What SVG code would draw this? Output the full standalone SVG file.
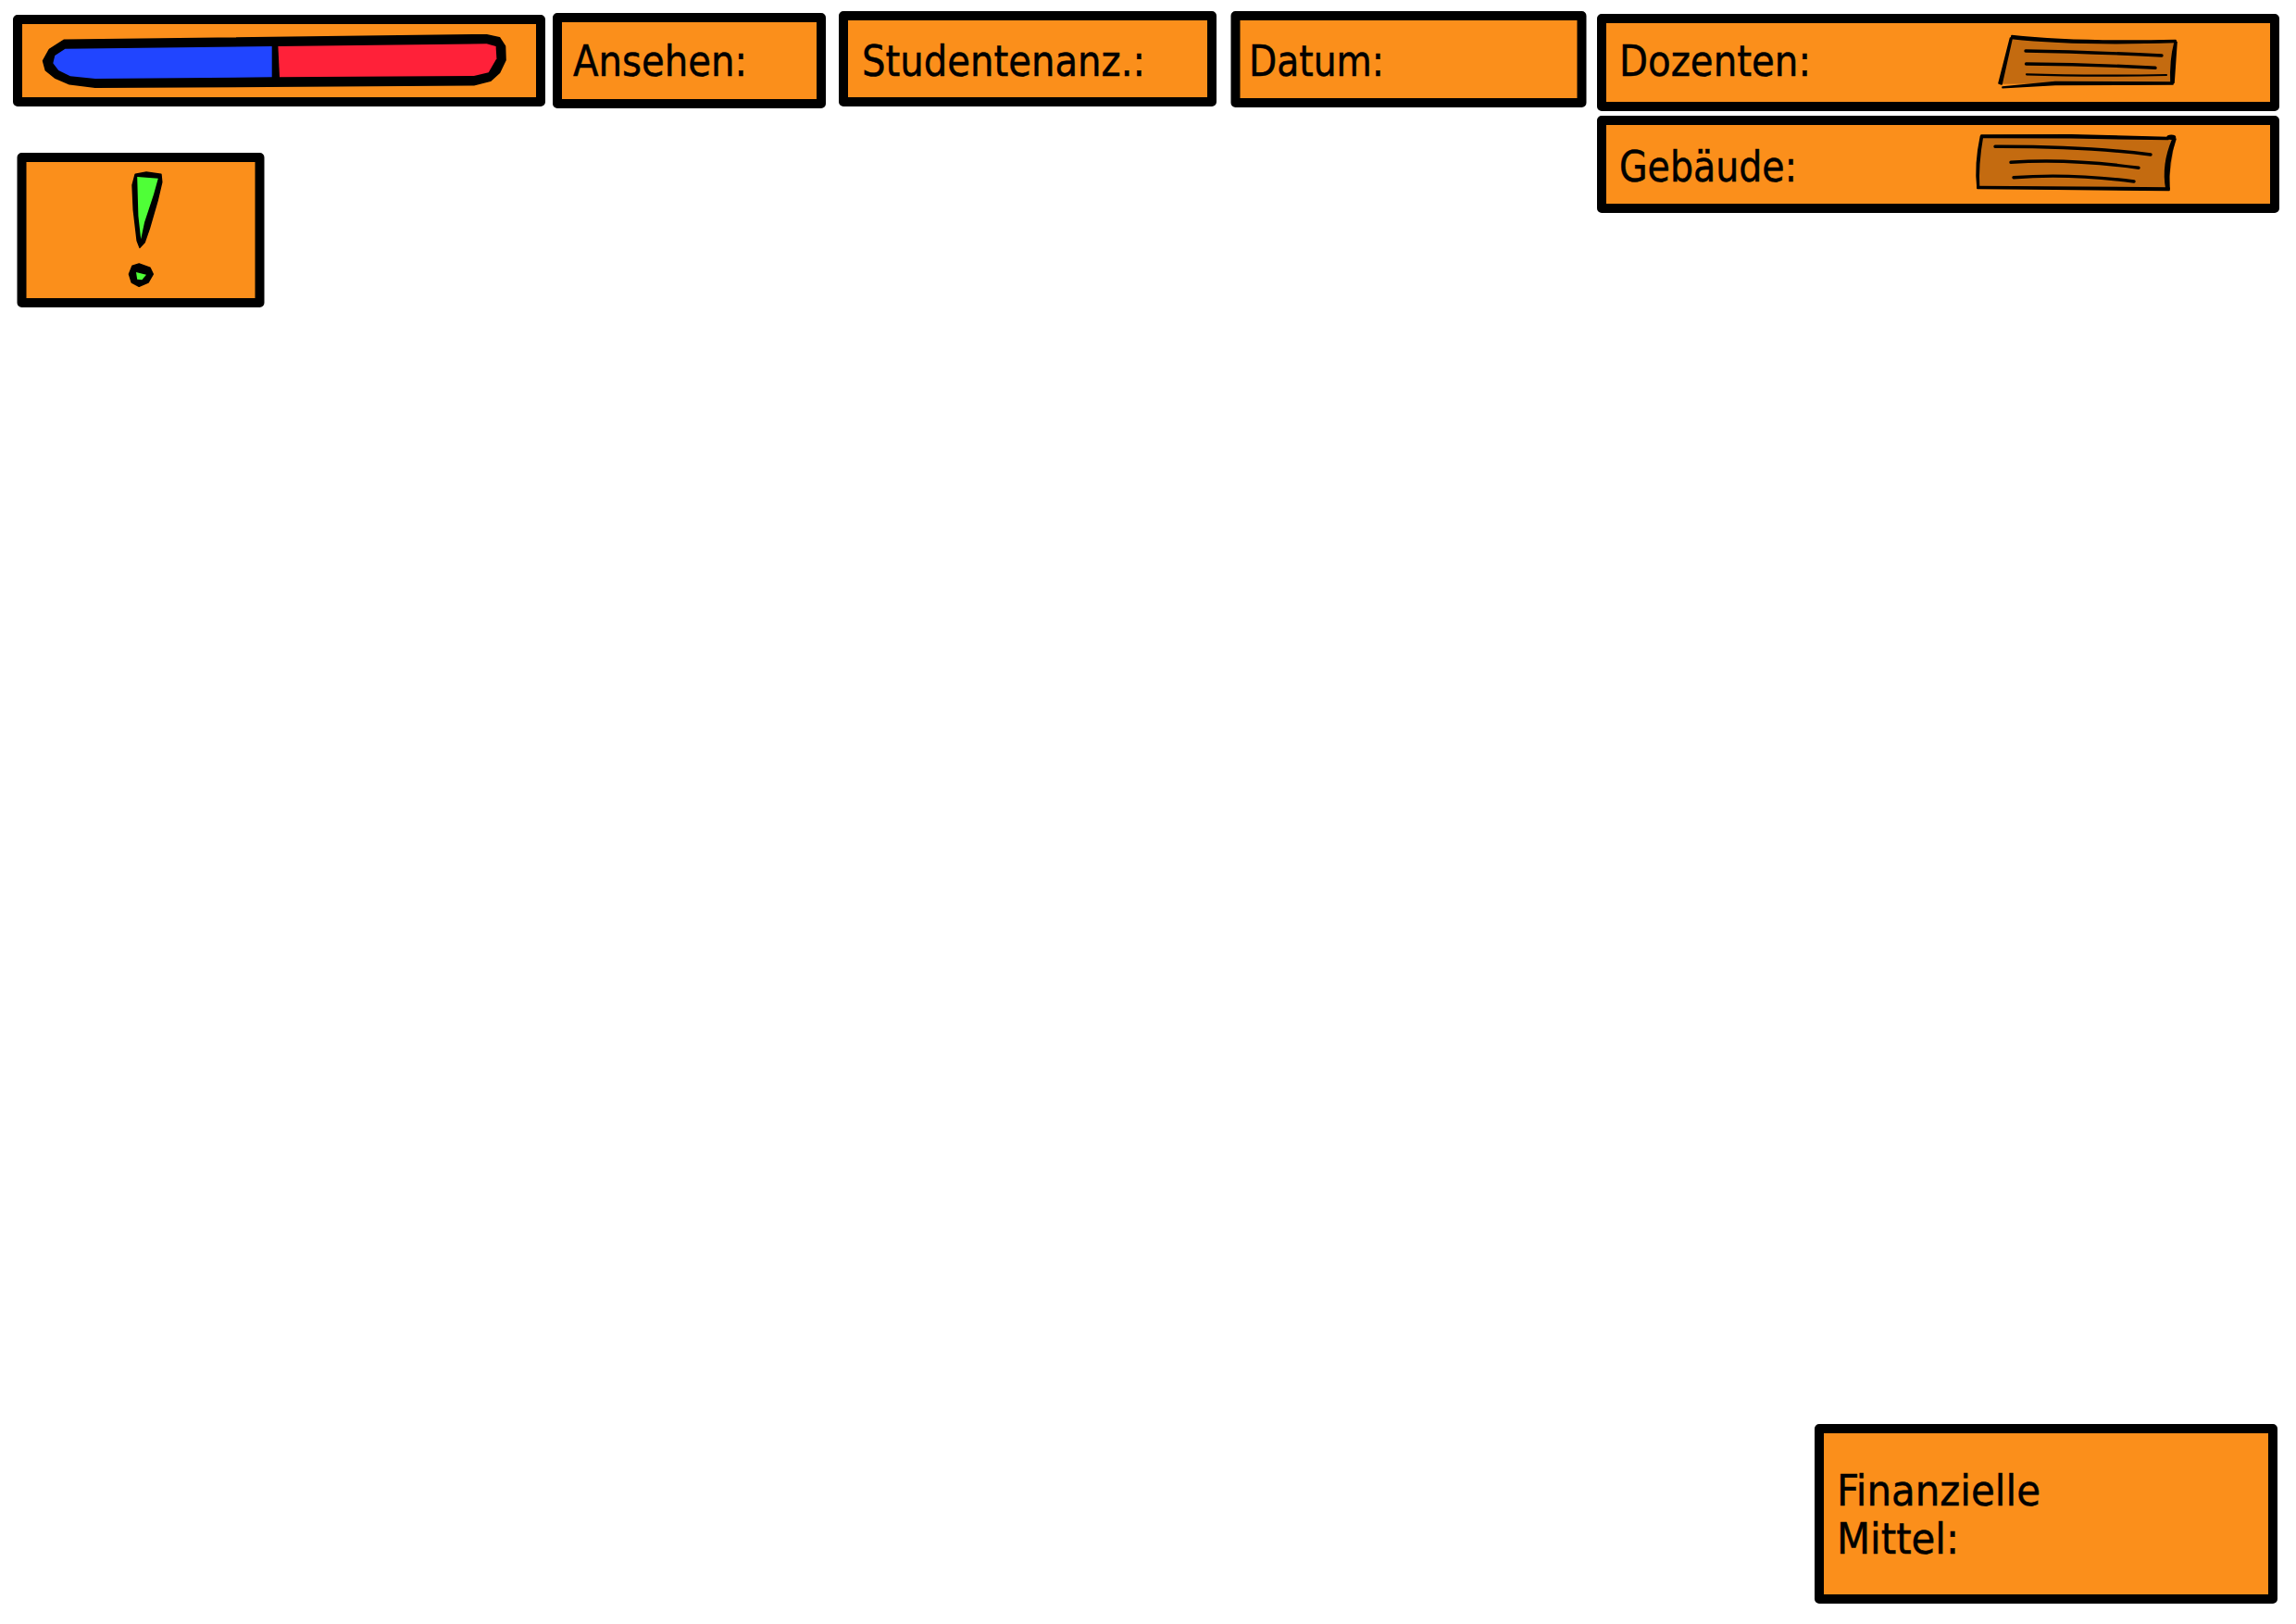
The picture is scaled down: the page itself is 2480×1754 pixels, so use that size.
<svg xmlns="http://www.w3.org/2000/svg" width="2480" height="1754" viewBox="0 0 2480 1754">
<style>
.box{fill:#FB8F1B;stroke:#000;stroke-width:10;stroke-linejoin:round}
.lbl{font-family:"DejaVu Sans Condensed","DejaVu Sans",sans-serif;font-size:47px;fill:#000;stroke:#000;stroke-width:.5}
.ink{fill:#000;stroke:#000;stroke-width:1.6;stroke-linejoin:round}
.wood{fill:#C46B10}
.grain{fill:none;stroke:#000;stroke-width:3.4;stroke-linecap:round}
.thin{fill:none;stroke:#000;stroke-width:2.2;stroke-linecap:round}
</style>
<rect width="2480" height="1754" fill="#fff"/>
<g id="balance">
<rect class="box" x="19" y="21" width="565" height="89"/>
<path class="ink" d="M69 43.3L525.7 37.7L539.5 40.7L545.5 50L546 65L539.5 78.3L529.6 87.3L511.9 91.7L102.8 94.3L75 90.7L59.3 84L49.4 76L46.6 65.7L53.4 53.3Z"/>
<path fill="#2145FF" d="M70.4 52.7L293.7 50V83.3L102.8 85L75.9 82.3L63.2 76L57.3 68.3L59.3 60Z"/>
<path fill="#FF2139" d="M300.4 50L525.7 47.3L535.6 50L536.4 63.3L527.7 78.3L511.9 82L302 83.3Z"/>
</g>
<g id="ansehen">
<rect class="box" x="602" y="19" width="285" height="93"/>
<text class="lbl" x="619" y="82" textLength="188" lengthAdjust="spacingAndGlyphs">Ansehen:</text>
</g>
<g id="studentenanzahl">
<rect class="box" x="911" y="17" width="398" height="93"/>
<text class="lbl" x="931" y="82" textLength="306" lengthAdjust="spacingAndGlyphs">Studentenanz.:</text>
</g>
<g id="datum">
<rect class="box" x="1334.5" y="17" width="374" height="94"/>
<text class="lbl" x="1349" y="82" textLength="146" lengthAdjust="spacingAndGlyphs">Datum:</text>
</g>
<g id="dozenten">
<rect class="box" x="1730" y="20" width="727" height="95"/>
<text class="lbl" x="1749" y="82" textLength="207" lengthAdjust="spacingAndGlyphs">Dozenten:</text>
<path class="wood" d="M2171.7 41.7L2350 46L2346.7 89.3L2161.7 90.7Z"/>
<path class="ink" d="M2173 38.5Q2240 46 2350 43.5L2350.5 45.5Q2240 49 2172.5 41.5Z"/>
<path class="ink" d="M2171.5 41L2173 42L2162 91L2159 90Z"/>
<path class="ink" d="M2351 45.5L2348 89.5L2345 89.5Q2344 65 2349 46Z"/>
<path class="ink" d="M2163 94L2220 88.5L2347 89V91L2220 91.5L2163 94.8Z"/>
<path class="grain" d="M2188 55Q2253 56 2335 60"/>
<path class="grain" d="M2188.5 69Q2260 69.5 2328 73.3"/>
<path class="thin" d="M2189 80.3Q2253 82.5 2340 81"/>
</g>
<g id="gebaeude">
<rect class="box" x="1730" y="130" width="727" height="95"/>
<text class="lbl" x="1749" y="196" textLength="192" lengthAdjust="spacingAndGlyphs">Gebäude:</text>
<path class="wood" d="M2140 147.3L2349.3 150L2341.7 204L2136 202.7Z"/>
<path class="ink" d="M2140 146L2237 145.8L2342 148.5V150.5L2237 148.8L2140 148.5Z"/>
<ellipse class="ink" cx="2345.3" cy="148.3" rx="4.2" ry="1.9"/>
<path class="ink" d="M2350 150Q2341 175 2343 204H2340Q2335 178 2347 150Z"/>
<path class="ink" d="M2141.5 147Q2136 178 2137.5 203H2136Q2133 178 2139.5 147Z"/>
<path class="ink" d="M2136 201.5L2343 203V205.5L2220 204.2L2136 203.5Z"/>
<path class="grain" d="M2155 158.3Q2253 158 2323 167"/>
<path class="grain" d="M2172 175.3Q2235 171 2310 181.3"/>
<path class="grain" d="M2175 191.7Q2235 187 2305 196"/>
</g>
<g id="warnung">
<rect class="box" x="23.5" y="170" width="257" height="157"/>
<path class="ink" d="M146.2 188.3L158.1 186L173.9 188.3L174.7 196.7L170 216.7L161.3 246.7L156.1 261.7L151 267.3L148.2 260L144.3 226.7L143.1 200Z"/>
<path fill="#4FFF37" d="M148.2 191L170.8 192.7L166 210L156.1 240L152.2 258.3L149.4 233.3Z"/>
<path class="ink" d="M150.2 285L162 289.3L165.2 296L160 305L150.2 309.3L142.3 305L139.5 296L143 287.3Z"/>
<path fill="#4FFF37" d="M147 294L158 296.7L153.4 302.3L148.2 301.7Z"/>
</g>
<g id="finanzen">
<rect class="box" x="1965" y="1543" width="490" height="184"/>
<text class="lbl" x="1984" y="1626" textLength="220" lengthAdjust="spacingAndGlyphs">Finanzielle</text>
<text class="lbl" x="1984" y="1678" textLength="132" lengthAdjust="spacingAndGlyphs">Mittel:</text>
</g>
<g id="connectors"/>
</svg>
